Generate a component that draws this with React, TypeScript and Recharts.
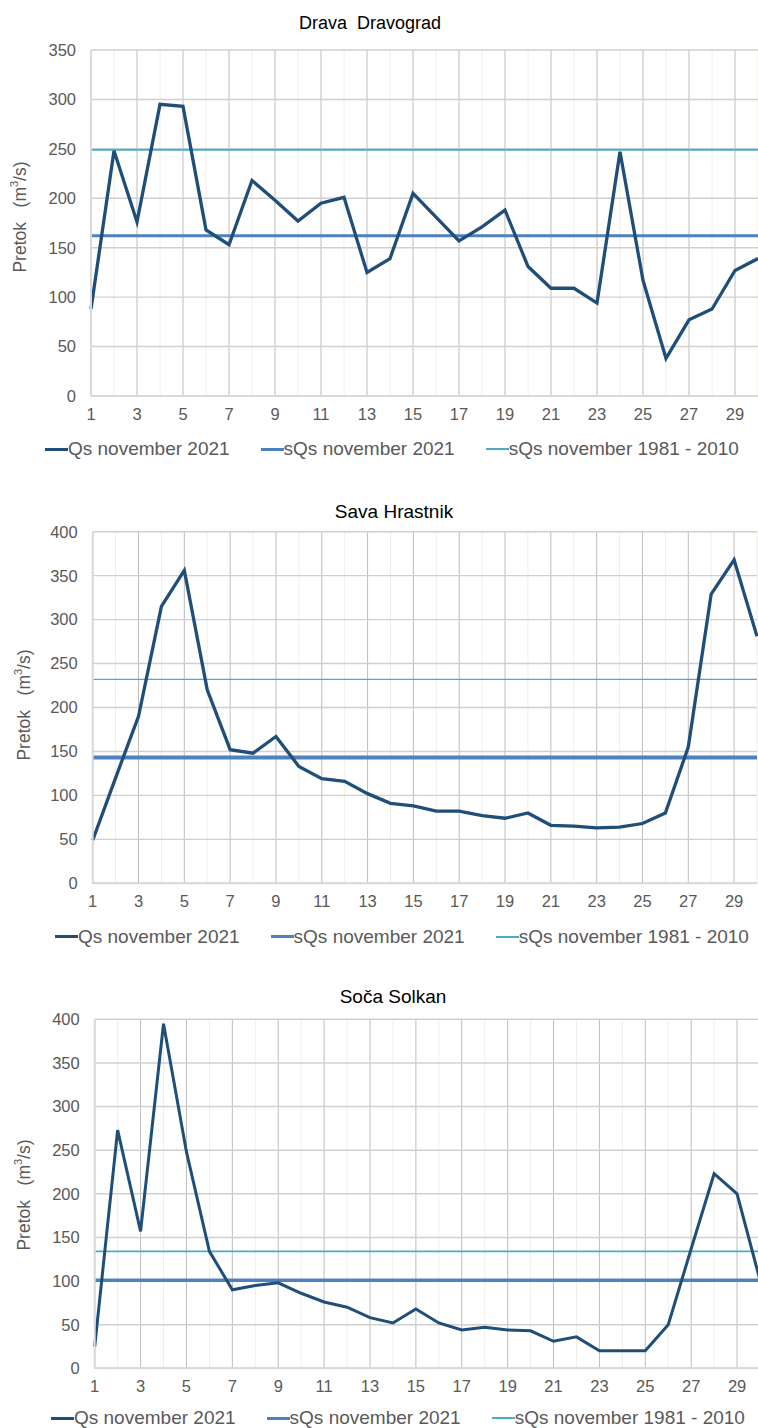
import React from 'react';
import { LineChart, Line, XAxis, YAxis, CartesianGrid, Legend } from 'recharts';

// ---------- data ----------
const days = [1, 2, 3, 4, 5, 6, 7, 8, 9, 10, 11, 12, 13, 14, 15, 16, 17, 18, 19, 20, 21, 22, 23, 24, 25, 26, 27, 28, 29, 30];
const evenDays = [2, 4, 6, 8, 10, 12, 14, 16, 18, 20, 22, 24, 26, 28, 30];
const xTickLabels = [1, 3, 5, 7, 9, 11, 13, 15, 17, 19, 21, 23, 25, 27, 29];

const yTicks350 = [0, 50, 100, 150, 200, 250, 300, 350];
const yTicks400 = [0, 50, 100, 150, 200, 250, 300, 350, 400];

const dravaQs = [88, 248, 176, 295, 293, 168, 153, 218, 198, 177, 195, 201, 125, 139, 205, 181, 157, 171, 188, 131, 109, 109, 94, 247, 117, 38, 77, 88, 127, 139];
const dravaMean2021 = 162;
const dravaMeanNormal = 249;

const savaQs = [49, 120, 190, 315, 356, 220, 152, 148, 167, 133, 119, 116, 102, 91, 88, 82, 82, 77, 74, 80, 66, 65, 63, 64, 68, 80, 155, 329, 368, 281];
const savaMean2021 = 143;
const savaMeanNormal = 232;

const socaQs = [25, 273, 157, 395, 248, 134, 90, 95, 98, 86, 76, 70, 58, 52, 68, 52, 44, 47, 44, 43, 31, 36, 20, 20, 20, 50, 137, 223, 200, 101];
const socaMean2021 = 101;
const socaMeanNormal = 134;

const seriesNames = {
  qs: 'Qs november 2021',
  s2021: 'sQs november 2021',
  sNorm: 'sQs november 1981 - 2010',
};
const legendOrder = ['qs', 's2021', 'sNorm'];

const buildRows = (qs: number[], m2021: number, mNorm: number) =>
  days.map((day, i) => ({ day, qs: qs[i], s2021: m2021, sNorm: mNorm }));

// ---------- styles ----------
const FONT = '"Liberation Sans", Arial, sans-serif';
const COLORS = { qs: '#1F4E79', s2021: '#4F81BD', sNorm: '#4BACC6' };
const TEXT_GRAY = '#595959';

type Cfg = {
  title: string;
  rows: any[];
  yTicks: number[];
  yMax: number;
  top: number;
  width: number;
  height: number;
  marginTop: number;
  marginRight: number;
  plotLeft: number;
  xAxisH: number;
  legendTop: number;
  legendLeft: number;
  titleCX: number;
  titleCY: number;
  titleSize: number;
  yLabelX: number;
  yLabelY: number;
  widths: { qs: number; s2021: number; sNorm: number };
};

const YLabel = (props: any) => {
  const { lx, ly } = props;
  return (
    <text
      x={lx}
      y={ly}
      transform={`rotate(-90, ${lx}, ${ly})`}
      textAnchor="middle"
      dominantBaseline="central"
      fill={TEXT_GRAY}
      fontFamily={FONT}
      fontSize={17.5}
      style={{ whiteSpace: 'pre' }}
    >
      <tspan>{'Pretok   (m'}</tspan>
      <tspan fontSize={11} dy={-6}>3</tspan>
      <tspan dy={6}>/s)</tspan>
    </text>
  );
};

const makeLegend = (cfg: Cfg) => (props: any) => {
  const payload = props.payload || [];
  const items = legendOrder
    .map((k) => payload.find((p: any) => p.dataKey === k))
    .filter(Boolean);
  return (
    <div
      style={{
        display: 'flex',
        height: 22,
        lineHeight: '22px',
        paddingLeft: cfg.legendLeft,
        fontFamily: FONT,
        fontSize: 19,
        color: TEXT_GRAY,
        whiteSpace: 'nowrap',
      }}
    >
      {items.map((p: any) => (
        <div key={p.dataKey} style={{ display: 'flex', alignItems: 'center', marginRight: 31 }}>
          <span
            style={{
              display: 'inline-block',
              width: 23,
              height: p.dataKey === 'sNorm' ? 2 : 3,
              background: p.color,
            }}
          />
          <span>{p.value}</span>
        </div>
      ))}
    </div>
  );
};

const Panel = ({ cfg }: { cfg: Cfg }) => {
  return (
    <div style={{ position: 'absolute', left: 0, top: cfg.top, width: cfg.width, height: cfg.height }}>
      <div
        style={{
          position: 'absolute',
          left: 0,
          width: cfg.titleCX * 2,
          top: cfg.titleCY - cfg.top - 10.5,
          height: 22,
          lineHeight: '22px',
          textAlign: 'center',
          fontFamily: FONT,
          fontSize: cfg.titleSize,
          color: '#000',
          whiteSpace: 'pre',
          zIndex: 2,
        }}
      >
        {cfg.title}
      </div>
      <LineChart
        width={cfg.width}
        height={cfg.height}
        data={cfg.rows}
        margin={{ top: cfg.marginTop, right: cfg.marginRight, bottom: 0, left: 0 }}
      >
        <CartesianGrid
          xAxisId="even"
          vertical={true}
          horizontal={false}
          syncWithTicks={true}
          stroke="#F0EFE6"
          strokeWidth={1}
        />
        <CartesianGrid
          vertical={true}
          horizontal={false}
          syncWithTicks={true}
          stroke="#BDBDBD"
          strokeWidth={1}
        />
        <CartesianGrid vertical={false} horizontal={true} stroke="#D0D0D0" strokeWidth={1.4} />
        <XAxis
          xAxisId="even"
          dataKey="day"
          type="number"
          domain={[1, 30]}
          ticks={evenDays}
          interval={0}
          hide={true}
        />
        <XAxis
          dataKey="day"
          type="number"
          domain={[1, 30]}
          ticks={xTickLabels}
          interval={0}
          height={cfg.xAxisH}
          tickSize={0}
          tickMargin={12}
          tickLine={false}
          axisLine={{ stroke: '#D9D9D9', strokeWidth: 2 }}
          tick={{ fill: TEXT_GRAY, fontSize: 16.5, fontFamily: FONT }}
        />
        <YAxis
          type="number"
          domain={[0, cfg.yMax]}
          ticks={cfg.yTicks}
          interval={0}
          width={cfg.plotLeft}
          tickSize={0}
          tickMargin={15}
          tickLine={false}
          axisLine={{ stroke: '#D9D9D9', strokeWidth: 2 }}
          tick={{ fill: TEXT_GRAY, fontSize: 16.5, fontFamily: FONT }}
          label={<YLabel lx={cfg.yLabelX} ly={cfg.yLabelY} />}
        />
        <Legend
          verticalAlign="bottom"
          content={makeLegend(cfg)}
          wrapperStyle={{ top: cfg.legendTop, bottom: 'auto', left: 0, width: cfg.width, height: 22 }}
        />
        <Line
          type="linear"
          dataKey="sNorm"
          name={seriesNames.sNorm}
          stroke={COLORS.sNorm}
          strokeWidth={cfg.widths.sNorm}
          dot={false}
          activeDot={false}
          isAnimationActive={false}
        />
        <Line
          type="linear"
          dataKey="s2021"
          name={seriesNames.s2021}
          stroke={COLORS.s2021}
          strokeWidth={cfg.widths.s2021}
          dot={false}
          activeDot={false}
          isAnimationActive={false}
        />
        <Line
          type="linear"
          dataKey="qs"
          name={seriesNames.qs}
          stroke={COLORS.qs}
          strokeWidth={cfg.widths.qs}
          dot={false}
          activeDot={false}
          isAnimationActive={false}
        />
      </LineChart>
    </div>
  );
};

const drava: Cfg = {
  title: 'Drava  Dravograd',
  rows: buildRows(dravaQs, dravaMean2021, dravaMeanNormal),
  yTicks: yTicks350,
  yMax: 350,
  top: 0,
  width: 758,
  height: 470,
  marginTop: 50,
  marginRight: 0,
  plotLeft: 91,
  xAxisH: 52,
  legendTop: 438,
  legendLeft: 45,
  titleCX: 370,
  titleCY: 22,
  titleSize: 18,
  yLabelX: 19.7,
  yLabelY: 217,
  widths: { qs: 3.3, s2021: 3, sNorm: 2 },
};

const sava: Cfg = {
  title: 'Sava Hrastnik',
  rows: buildRows(savaQs, savaMean2021, savaMeanNormal),
  yTicks: yTicks400,
  yMax: 400,
  top: 490,
  width: 758,
  height: 470,
  marginTop: 41.7,
  marginRight: 1,
  plotLeft: 92.7,
  xAxisH: 54.7,
  legendTop: 435.8,
  legendLeft: 55,
  titleCX: 394,
  titleCY: 511.2,
  titleSize: 19,
  yLabelX: 24.2,
  yLabelY: 215,
  widths: { qs: 3.3, s2021: 4, sNorm: 1.4 },
};

const soca: Cfg = {
  title: 'Soča Solkan',
  rows: buildRows(socaQs, socaMean2021, socaMeanNormal),
  yTicks: yTicks400,
  yMax: 400,
  top: 975,
  width: 760,
  height: 453,
  marginTop: 44.3,
  marginRight: 0,
  plotLeft: 94.7,
  xAxisH: 37.7,
  legendTop: 432.2,
  legendLeft: 51,
  titleCX: 393,
  titleCY: 996.3,
  titleSize: 19,
  yLabelX: 24.2,
  yLabelY: 220,
  widths: { qs: 3, s2021: 3.5, sNorm: 1.7 },
};

export default function App() {
  return (
    <div
      style={{
        position: 'absolute',
        left: 0,
        top: 0,
        width: 758,
        height: 1428,
        overflow: 'hidden',
        background: '#fff',
      }}
    >
      <Panel cfg={drava} />
      <Panel cfg={sava} />
      <Panel cfg={soca} />
    </div>
  );
}
